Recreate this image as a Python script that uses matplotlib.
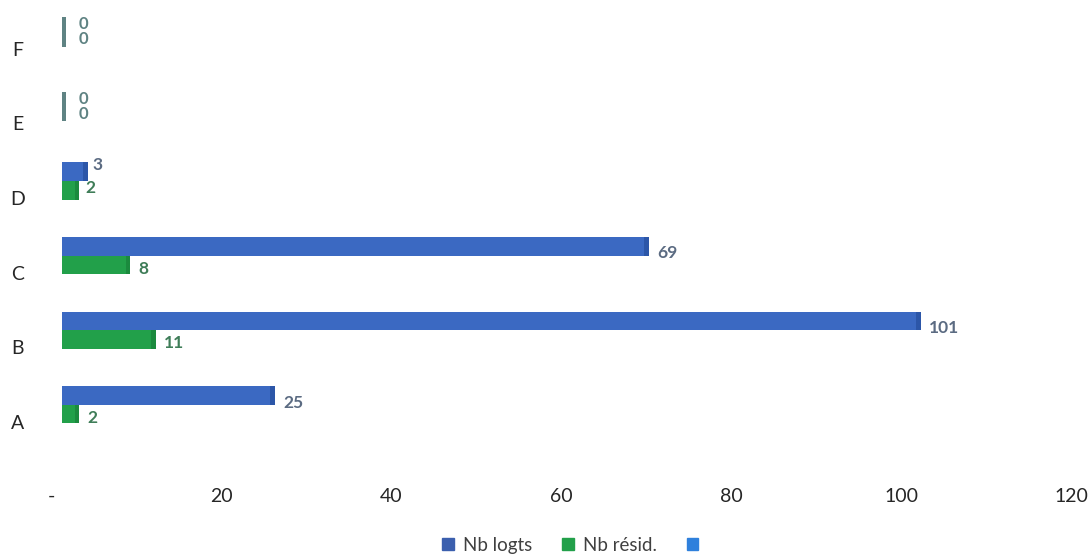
"""Horizontal bar chart: Nb logts / Nb résid. per class A-F"""

import numpy as np
import matplotlib.pyplot as plt
import matplotlib.transforms as mtransforms
from matplotlib.patches import Patch

categories = ['A', 'B', 'C', 'D', 'E', 'F']
nb_logts = [25, 101, 69, 3, 0, 0]
nb_resid = [2, 11, 8, 2, 0, 0]
legend_labels = ['Nb logts', 'Nb résid.', '']
x_ticks = [0, 20, 40, 60, 80, 100, 120]
x_tick_labels = ['-', '20', '40', '60', '80', '100', '120']

blue = '#3b69c2'
blue_end = '#2c56a8'
green = '#22a04a'
green_end = '#1b8a3e'
zero_col = '#5f8383'
blue_txt = '#5b6b82'
green_txt = '#3f7d58'

plt.rcParams['font.family'] = ['Lato', 'DejaVu Sans']

fig = plt.figure(figsize=(10.91, 5.55), dpi=100)
ax = fig.add_axes([62 / 1091, 1 - 457 / 555, 1020 / 1091, 455 / 555])

y = np.arange(len(categories))
h = 0.25
cap = 0.5

# the two series, blue above green
ax.barh(y + h / 2, nb_logts, height=h, color=blue, linewidth=0)
ax.barh(y - h / 2, nb_resid, height=h, color=green, linewidth=0)

# darker end faces of the bars (zero values only show this face)
for i in range(len(categories)):
    if nb_logts[i] == 0 and nb_resid[i] == 0:
        ax.barh(y[i], cap, left=0, height=2 * h * 0.8, color=zero_col, linewidth=0)
        continue
    ax.barh(y[i] + h / 2, cap, left=nb_logts[i] - cap, height=h, color=blue_end, linewidth=0)
    ax.barh(y[i] - h / 2, cap, left=nb_resid[i] - cap, height=h, color=green_end, linewidth=0)

# value labels
for i in range(len(categories)):
    vb, vg = nb_logts[i], nb_resid[i]
    if vb == 0 and vg == 0:
        ax.text(2.0, y[i] + 0.1, str(vb), color=zero_col, fontsize=12,
                fontweight='bold', va='center', ha='left')
        ax.text(2.0, y[i] - 0.1, str(vg), color=zero_col, fontsize=12,
                fontweight='bold', va='center', ha='left')
    elif vb <= 5:
        ax.text(vb + 0.6, y[i] + 0.22, str(vb), color=blue_txt, fontsize=12.5,
                fontweight='bold', va='center', ha='left')
        ax.text(vg + 0.8, y[i] - 0.1, str(vg), color=green_txt, fontsize=12.5,
                fontweight='bold', va='center', ha='left')
    else:
        ax.text(vb + 1.0, y[i] + 0.03, str(vb), color=blue_txt, fontsize=12.5,
                fontweight='bold', va='center', ha='left')
        ax.text(vg + 1.0, y[i] - h / 2 - 0.05, str(vg), color=green_txt, fontsize=12.5,
                fontweight='bold', va='center', ha='left')

ax.set_xlim(0, 120)
ax.set_ylim(-0.7, 5.4)
ax.set_xticks(x_ticks)
ax.set_xticklabels(x_tick_labels, fontsize=14, color='#262626')
ax.set_yticks(y)
ax.set_yticklabels(categories, fontsize=14, color='#262626', ha='center')
ax.tick_params(axis='x', length=0, pad=22)
ax.tick_params(axis='y', length=0, pad=32)
for s in ax.spines.values():
    s.set_visible(False)

# perspective shift of the axis labels
xoff = mtransforms.ScaledTranslation(-11 / 100, 0, fig.dpi_scale_trans)
for lab in ax.get_xticklabels():
    lab.set_transform(lab.get_transform() + xoff)
yoff = mtransforms.ScaledTranslation(0, -17 / 100, fig.dpi_scale_trans)
for lab in ax.get_yticklabels():
    lab.set_transform(lab.get_transform() + yoff)

handles = [Patch(color='#3b5fae'), Patch(color='#22a04a'), Patch(color='#2f80dc')]
fig.legend(handles, legend_labels, loc='center', bbox_to_anchor=(0.527, 0.018),
           ncol=3, frameon=False, fontsize=13.5, handlelength=0.6, handleheight=0.6,
           handletextpad=0.5, columnspacing=1.6, labelcolor='#404040')

plt.savefig('out.png', dpi=100)
